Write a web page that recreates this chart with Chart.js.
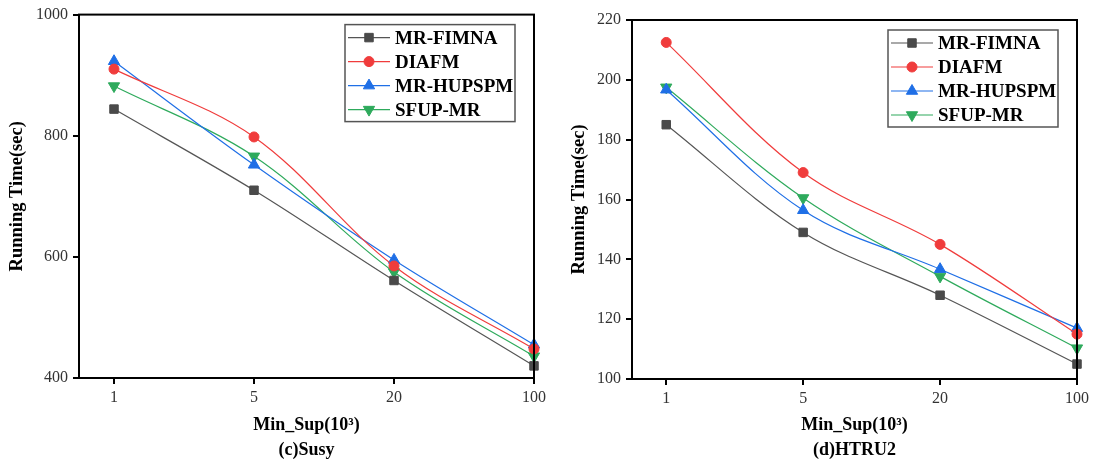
<!DOCTYPE html>
<html>
<head>
  <meta charset="utf-8">
  <title>Running Time vs Min_Sup</title>
  <script src="https://cdn.jsdelivr.net/npm/chart.js"></script>
  <style>
    html, body { margin: 0; padding: 0; background: #fff; }
    .wrap { position: relative; width: 1093px; height: 463px; }
    .panel { position: absolute; top: 0; height: 463px; }
    #panelC { left: 0; width: 550px; }
    #panelD { left: 550px; width: 543px; }
  </style>
</head>
<body>
  <div class="wrap">
    <div class="panel" id="panelC"><canvas id="susyChart"></canvas></div>
    <div class="panel" id="panelD"><canvas id="htruChart"></canvas></div>
  </div>

  <script>
    // x categories (Min_Sup in 10^3)
    const minSupLabels = ['1', '5', '20', '100'];
    const seriesNames = ['MR-FIMNA', 'DIAFM', 'MR-HUPSPM', 'SFUP-MR'];

    // (c) Susy - running time in sec
    const susyFimna  = [844, 710, 561, 420];
    const susyDiafm  = [910, 798, 585, 448];
    const susyHupspm = [923, 752, 595, 455];
    const susySfup   = [882, 766, 575, 436];

    // (d) HTRU2 - running time in sec
    const htruFimna  = [185, 149, 128, 105];
    const htruDiafm  = [212.5, 169, 145, 115];
    const htruHupspm = [196.7, 156.4, 136.7, 117];
    const htruSfup   = [197.5, 160.5, 134.3, 110.3];

    // look of each series
    const styles = [
      { color: '#4a4a4a', line: '#555555', point: 'rect', radius: 6, rot: 0 },
      { color: '#f03c3c', line: '#f03c3c', point: 'circle', radius: 5, rot: 0 },
      { color: '#1f6fe6', line: '#1f6fe6', point: 'triangle', radius: 6.5, rot: 0 },
      { color: '#2eaa5c', line: '#2eaa5c', point: 'triangle', radius: 6.5, rot: 180 }
    ];

    const serif = '"Liberation Serif", "Times New Roman", serif';

    // thick box around the plot area
    const frame = {
      id: 'frame',
      afterDatasetsDraw(chart) {
        const { ctx, chartArea: a } = chart;
        ctx.save();
        ctx.strokeStyle = '#000';
        ctx.lineWidth = 2;
        ctx.strokeRect(a.left, a.top, a.right - a.left, a.bottom - a.top);
        ctx.restore();
      }
    };

    // legend box in the upper right corner, line + marker + bold label
    const boxLegend = {
      id: 'boxLegend',
      afterDraw(chart) {
        const { ctx, chartArea: a } = chart;
        const w = 170, h = 97;
        const x0 = a.right - 19 - w, y0 = a.top + 10;
        ctx.save();
        ctx.fillStyle = '#fff';
        ctx.fillRect(x0, y0, w, h);
        ctx.strokeStyle = '#555';
        ctx.lineWidth = 1.5;
        ctx.strokeRect(x0, y0, w, h);
        ctx.font = 'bold 19px ' + serif;
        ctx.textBaseline = 'middle';
        chart.data.datasets.forEach((ds, i) => {
          const y = y0 + 13 + i * 24;
          ctx.strokeStyle = ds.borderColor;
          ctx.lineWidth = 1.2;
          ctx.beginPath();
          ctx.moveTo(x0 + 3, y);
          ctx.lineTo(x0 + 45, y);
          ctx.stroke();
          ctx.fillStyle = ds.pointBackgroundColor;
          ctx.strokeStyle = ds.pointBorderColor;
          ctx.lineWidth = 1;
          Chart.helpers.drawPoint(ctx, {
            pointStyle: ds.pointStyle,
            rotation: ds.pointRotation,
            radius: ds.pointRadius,
            borderWidth: 1
          }, x0 + 24, y);
          ctx.fillStyle = '#000';
          ctx.fillText(ds.label, x0 + 50, y + 1);
        });
        ctx.restore();
      }
    };

    function makeDatasets(values) {
      return values.map((vals, i) => ({
        label: seriesNames[i],
        data: vals.map((v, j) => ({ x: j + 1, y: v })),
        borderColor: styles[i].line,
        borderWidth: 1.2,
        pointStyle: styles[i].point,
        pointRotation: styles[i].rot,
        pointRadius: styles[i].radius,
        pointBackgroundColor: styles[i].color,
        pointBorderColor: styles[i].color,
        pointBorderWidth: 1,
        tension: 0.35,
        fill: false,
        clip: false
      }));
    }

    function makeChart(id, values, cfg) {
      return new Chart(document.getElementById(id), {
        type: 'line',
        data: { datasets: makeDatasets(values) },
        plugins: [frame, boxLegend],
        options: {
          responsive: true,
          maintainAspectRatio: false,
          animation: false,
          layout: { padding: { left: 0, right: 15, top: cfg.top, bottom: 0 } },
          plugins: { legend: { display: false }, tooltip: { enabled: false } },
          scales: {
            x: {
              type: 'linear',
              min: 0.75,
              max: 4,
              afterBuildTicks: (scale) => {
                scale.ticks = minSupLabels.map((_, i) => ({ value: i + 1 }));
              },
              afterFit: (scale) => { scale.height = cfg.xHeight; },
              ticks: {
                callback: (v) => minSupLabels[v - 1],
                font: { family: serif, size: 16 },
                color: '#333',
                padding: 4,
                maxRotation: 0
              },
              grid: { drawOnChartArea: false, color: '#000', lineWidth: 2, tickLength: 6 },
              border: { color: '#000', width: 2 },
              title: {
                display: true,
                text: ['Min_Sup(10\u00B3)', cfg.caption],
                font: { family: serif, size: 18, weight: 'bold', lineHeight: 1.39 },
                color: '#000',
                padding: { top: 0, bottom: 0 }
              }
            },
            y: {
              min: cfg.yMin,
              max: cfg.yMax,
              afterFit: (scale) => { scale.width = cfg.yWidth; },
              ticks: {
                stepSize: cfg.yStep,
                callback: (v) => String(v),
                font: { family: serif, size: 16 },
                color: '#333',
                padding: 5
              },
              grid: { drawOnChartArea: false, color: '#000', lineWidth: 2, tickLength: 6 },
              border: { color: '#000', width: 2 },
              title: {
                display: true,
                text: 'Running Time(sec)',
                font: { family: serif, size: 18.5, weight: 'bold', lineHeight: 1.39 },
                color: '#000',
                padding: { top: cfg.yTitlePad, bottom: 0 }
              }
            }
          }
        }
      });
    }

    makeChart('susyChart', [susyFimna, susyDiafm, susyHupspm, susySfup], {
      caption: '(c)Susy', top: 11, xHeight: 85, yWidth: 79, yTitlePad: 4,
      yMin: 400, yMax: 1000, yStep: 200
    });

    makeChart('htruChart', [htruFimna, htruDiafm, htruHupspm, htruSfup], {
      caption: '(d)HTRU2', top: 20, xHeight: 84, yWidth: 82, yTitlePad: 16,
      yMin: 100, yMax: 220, yStep: 20
    });
  </script>
</body>
</html>
